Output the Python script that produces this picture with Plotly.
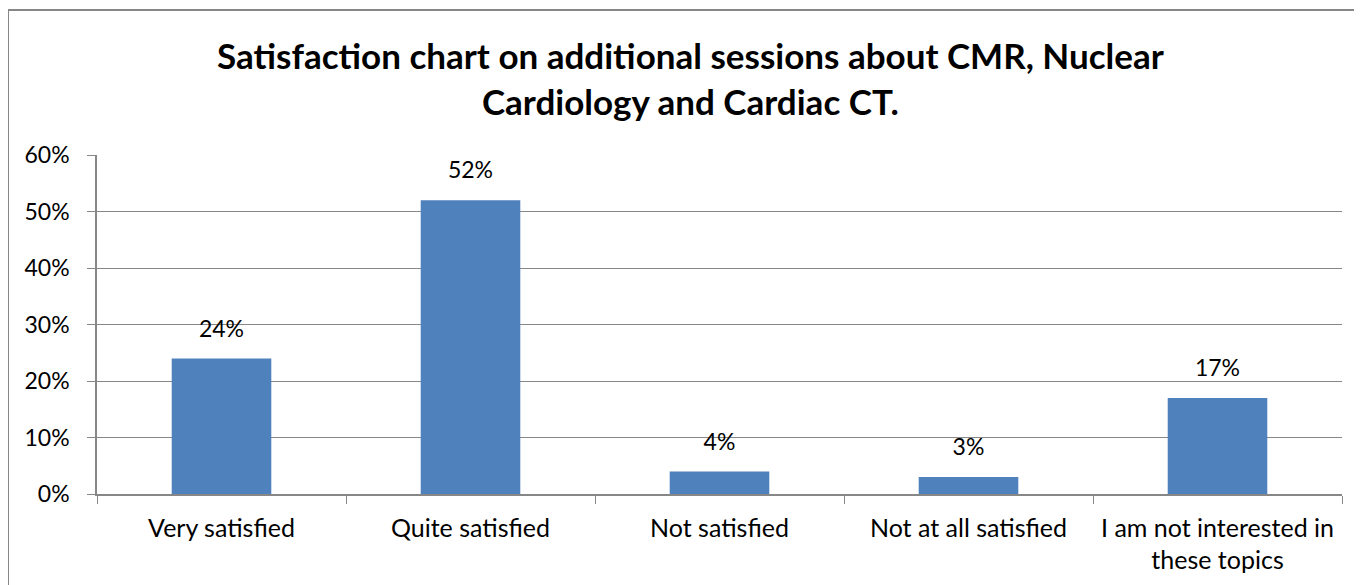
import plotly.graph_objects as go

categories = ['Very satisfied', 'Quite satisfied', 'Not satisfied', 'Not at all satisfied',
              'I am not interested in<br>these topics']
shares = [0.24, 0.52, 0.04, 0.03, 0.17]
y_ticks = [0, 0.1, 0.2, 0.3, 0.4, 0.5, 0.6]
title_text = 'Satisfaction chart on additional sessions about CMR, Nuclear<br>Cardiology and Cardiac CT.'

grey = '#878787'
font = 'Lato'

# page body has an 8px margin, so the figure is a bit smaller than the window
W, H = 1354, 577
ML, MT, MR, MB = 89, 147, 20, 91
pw, ph = W - ML - MR, H - MT - MB

fig = go.Figure()
fig.add_trace(go.Bar(
    x=categories, y=shares,
    marker=dict(color='#4F81BD', line=dict(width=0)),
    hoverinfo='skip',
))
# data labels sitting above the bars
fig.add_trace(go.Scatter(
    x=categories, y=shares, mode='markers+text',
    marker=dict(size=24, opacity=0),
    texttemplate='%{y:.0%}', textposition='top center',
    textfont=dict(family=font, size=23, color='#000000'),
    cliponaxis=False,
))

fig.update_layout(
    width=W, height=H,
    margin=dict(l=ML, r=MR, t=MT, b=MB),
    paper_bgcolor='white', plot_bgcolor='white',
    bargap=0.6, showlegend=False,
    title=dict(text='<b>' + title_text + '</b>', x=0.504, xanchor='center',
               y=0.894, yanchor='top',
               font=dict(family=font, size=35, color='#000000')),
    font=dict(family=font, size=23, color='#000000'),
)

fig.update_yaxes(
    range=[0, 0.6], tickvals=y_ticks, tickformat='.0%',
    showgrid=True, gridcolor=grey, gridwidth=1,
    showline=True, linecolor=grey, linewidth=1.5,
    ticks='outside', ticklen=8, tickcolor=grey, tickwidth=1,
    zeroline=False, tickfont=dict(family=font, size=23),
    ticklabelstandoff=13, automargin=False,
)
fig.update_xaxes(
    showline=True, linecolor=grey, linewidth=1.5,
    ticks='outside', tickson='boundaries', ticklen=8, tickcolor=grey, tickwidth=1,
    showgrid=False, tickfont=dict(family=font, size=25), ticklabelstandoff=11,
    automargin=False,
)

# outer chart border (only left and top edges are inside the picture)
bx0 = -ML / pw
by1 = 1 + (MT - 2) / ph
fig.add_shape(type='line', xref='paper', yref='paper', x0=bx0, x1=bx0, y0=-0.5, y1=by1,
              line=dict(color=grey, width=2), layer='below')
fig.add_shape(type='line', xref='paper', yref='paper', x0=bx0, x1=1.2, y0=by1, y1=by1,
              line=dict(color=grey, width=2), layer='below')

fig.write_html('out.html')
